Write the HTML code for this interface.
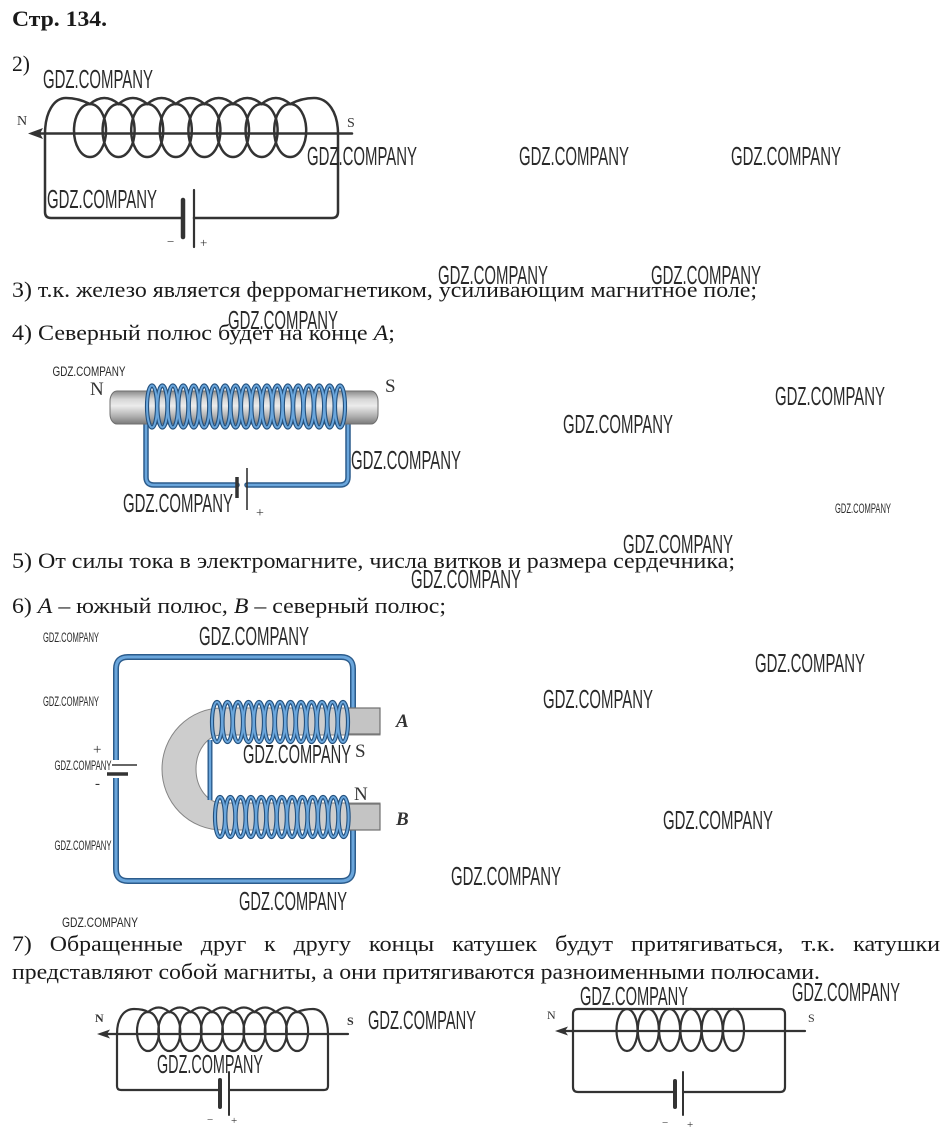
<!DOCTYPE html>
<html><head><meta charset="utf-8">
<style>
html,body{margin:0;padding:0;background:#fff;}
svg{display:block;}
.t{font-family:"Liberation Serif",serif;font-size:22px;fill:#1a1a1a;}
.w{font-family:"Liberation Sans",sans-serif;font-size:26px;fill:#2a2a2a;}
.ws{font-family:"Liberation Sans",sans-serif;font-size:13.5px;fill:#2a2a2a;}
.lbl{font-family:"Liberation Serif",serif;fill:#333;}
</style></head>
<body>
<svg width="948" height="1137" viewBox="0 0 948 1137" xmlns="http://www.w3.org/2000/svg">
<defs>
<linearGradient id="rod" x1="0" y1="0" x2="0" y2="1">
<stop offset="0" stop-color="#8a8a8a"/>
<stop offset="0.25" stop-color="#d6d6d6"/>
<stop offset="0.45" stop-color="#ececec"/>
<stop offset="0.75" stop-color="#b3b3b3"/>
<stop offset="1" stop-color="#7a7a7a"/>
</linearGradient>
</defs>

<!-- ===== TEXT ===== -->
<text x="12" y="26" class="t" style="font-weight:bold" textLength="95" lengthAdjust="spacingAndGlyphs">Стр. 134.</text>
<text x="12" y="71" class="t" textLength="18" lengthAdjust="spacingAndGlyphs">2)</text>
<text x="12" y="297" class="t" textLength="745" lengthAdjust="spacingAndGlyphs">3) т.к. железо является ферромагнетиком, усиливающим магнитное поле;</text>
<text x="12" y="340" class="t" textLength="383" lengthAdjust="spacingAndGlyphs">4) Северный полюс будет на конце <tspan font-style="italic">A</tspan>;</text>
<text x="12" y="568" class="t" textLength="723" lengthAdjust="spacingAndGlyphs">5) От силы тока в электромагните, числа витков и размера сердечника;</text>
<text x="12" y="613" class="t" textLength="434" lengthAdjust="spacingAndGlyphs">6) <tspan font-style="italic">A</tspan> – южный полюс, <tspan font-style="italic">B</tspan> – северный полюс;</text>

<text x="12" y="951" class="t" textLength="19.8" lengthAdjust="spacingAndGlyphs">7)</text>
<text x="49.8" y="951" class="t" textLength="133.1" lengthAdjust="spacingAndGlyphs">Обращенные</text>
<text x="200.8" y="951" class="t" textLength="45.5" lengthAdjust="spacingAndGlyphs">друг</text>
<text x="264.2" y="951" class="t" textLength="11.4" lengthAdjust="spacingAndGlyphs">к</text>
<text x="293.6" y="951" class="t" textLength="57.4" lengthAdjust="spacingAndGlyphs">другу</text>
<text x="368.9" y="951" class="t" textLength="65.2" lengthAdjust="spacingAndGlyphs">концы</text>
<text x="452.1" y="951" class="t" textLength="84.9" lengthAdjust="spacingAndGlyphs">катушек</text>
<text x="555.0" y="951" class="t" textLength="58.1" lengthAdjust="spacingAndGlyphs">будут</text>
<text x="631.0" y="951" class="t" textLength="152.4" lengthAdjust="spacingAndGlyphs">притягиваться,</text>
<text x="801.4" y="951" class="t" textLength="33.8" lengthAdjust="spacingAndGlyphs">т.к.</text>
<text x="853.1" y="951" class="t" textLength="87" lengthAdjust="spacingAndGlyphs">катушки</text>
<text x="12" y="979" class="t" textLength="808" lengthAdjust="spacingAndGlyphs">представляют собой магниты, а они притягиваются разноименными полюсами.</text>

<!-- ===== DIAGRAM 1 ===== -->
<g fill="none" stroke="#333" stroke-width="2.5" stroke-linecap="round">
<line x1="38" y1="133.5" x2="352" y2="133.5"/>
<path d="M45,134 C45,112 54,98 66,98 C76,98 84,101 90,104"/>
<path d="M90,104 Q104.3,92 118.6,104 Q132.9,92 147.2,104 Q161.5,92 175.8,104 Q190.1,92 204.4,104 Q218.7,92 233,104 Q247.3,92 261.6,104 Q275.9,92 290.2,104"/>
<path d="M290.2,104 C296,101 304,98 314,98 C328,98 338,112 338,134"/>
<ellipse cx="90" cy="130.5" rx="16" ry="26.5"/>
<ellipse cx="118.6" cy="130.5" rx="16" ry="26.5"/>
<ellipse cx="147.2" cy="130.5" rx="16" ry="26.5"/>
<ellipse cx="175.8" cy="130.5" rx="16" ry="26.5"/>
<ellipse cx="204.4" cy="130.5" rx="16" ry="26.5"/>
<ellipse cx="233" cy="130.5" rx="16" ry="26.5"/>
<ellipse cx="261.6" cy="130.5" rx="16" ry="26.5"/>
<ellipse cx="290.2" cy="130.5" rx="16" ry="26.5"/>
<path d="M45,134 L45,212 Q45,218 51,218 L183,218"/>
<path d="M338,134 L338,212 Q338,218 332,218 L194,218"/>
<line x1="183" y1="200" x2="183" y2="237" stroke-width="4.5"/>
<line x1="194" y1="190" x2="194" y2="247" stroke-width="2.2"/>
</g>
<polygon points="28,133.5 43,128 40,133.5 43,139" fill="#333"/>
<text x="17" y="125" class="lbl" font-size="14">N</text>
<text x="347" y="127" class="lbl" font-size="14">S</text>
<text x="167" y="246" class="lbl" font-size="13">−</text>
<text x="200" y="247" class="lbl" font-size="13">+</text>

<!-- ===== DIAGRAM 2 (electromagnet) ===== -->
<g fill="none" stroke-linecap="round" stroke-linejoin="round">
<path d="M146,418 L146,477 Q146,485 154,485 L237,485 M247,485 L340,485 Q348,485 348,477 L348,420" stroke="#2c5c8c" stroke-width="5.5"/>
<path d="M146,418 L146,477 Q146,485 154,485 L237,485 M247,485 L340,485 Q348,485 348,477 L348,420" stroke="#6aa6dc" stroke-width="2.5"/>
</g>
<rect x="110" y="391" width="268" height="33" rx="7" ry="10" fill="url(#rod)" stroke="#6f6f6f" stroke-width="1"/>
<g fill="none">
<g stroke="#23507d" stroke-width="4.2">
<ellipse cx="152" cy="406.5" rx="5" ry="21"/><ellipse cx="162.4" cy="406.5" rx="5" ry="21"/><ellipse cx="172.9" cy="406.5" rx="5" ry="21"/><ellipse cx="183.3" cy="406.5" rx="5" ry="21"/><ellipse cx="193.8" cy="406.5" rx="5" ry="21"/><ellipse cx="204.2" cy="406.5" rx="5" ry="21"/><ellipse cx="214.7" cy="406.5" rx="5" ry="21"/><ellipse cx="225.1" cy="406.5" rx="5" ry="21"/><ellipse cx="235.6" cy="406.5" rx="5" ry="21"/><ellipse cx="246" cy="406.5" rx="5" ry="21"/><ellipse cx="256.4" cy="406.5" rx="5" ry="21"/><ellipse cx="266.9" cy="406.5" rx="5" ry="21"/><ellipse cx="277.3" cy="406.5" rx="5" ry="21"/><ellipse cx="287.8" cy="406.5" rx="5" ry="21"/><ellipse cx="298.2" cy="406.5" rx="5" ry="21"/><ellipse cx="308.7" cy="406.5" rx="5" ry="21"/><ellipse cx="319.1" cy="406.5" rx="5" ry="21"/><ellipse cx="329.6" cy="406.5" rx="5" ry="21"/><ellipse cx="340" cy="406.5" rx="5" ry="21"/>
</g>
<g stroke="#6aa6dc" stroke-width="2">
<ellipse cx="152" cy="406.5" rx="5" ry="21"/><ellipse cx="162.4" cy="406.5" rx="5" ry="21"/><ellipse cx="172.9" cy="406.5" rx="5" ry="21"/><ellipse cx="183.3" cy="406.5" rx="5" ry="21"/><ellipse cx="193.8" cy="406.5" rx="5" ry="21"/><ellipse cx="204.2" cy="406.5" rx="5" ry="21"/><ellipse cx="214.7" cy="406.5" rx="5" ry="21"/><ellipse cx="225.1" cy="406.5" rx="5" ry="21"/><ellipse cx="235.6" cy="406.5" rx="5" ry="21"/><ellipse cx="246" cy="406.5" rx="5" ry="21"/><ellipse cx="256.4" cy="406.5" rx="5" ry="21"/><ellipse cx="266.9" cy="406.5" rx="5" ry="21"/><ellipse cx="277.3" cy="406.5" rx="5" ry="21"/><ellipse cx="287.8" cy="406.5" rx="5" ry="21"/><ellipse cx="298.2" cy="406.5" rx="5" ry="21"/><ellipse cx="308.7" cy="406.5" rx="5" ry="21"/><ellipse cx="319.1" cy="406.5" rx="5" ry="21"/><ellipse cx="329.6" cy="406.5" rx="5" ry="21"/><ellipse cx="340" cy="406.5" rx="5" ry="21"/>
</g>
</g>
<line x1="237" y1="477" x2="237" y2="498" stroke="#333" stroke-width="3.5"/>
<line x1="247" y1="468" x2="247" y2="510" stroke="#333" stroke-width="1.6"/>
<text x="90" y="395" class="lbl" font-size="19">N</text>
<text x="385" y="392" class="lbl" font-size="19">S</text>
<text x="256" y="517" class="lbl" font-size="14">+</text>

<!-- ===== DIAGRAM 3 (horseshoe) ===== -->
<g fill="none" stroke-linecap="butt" stroke-linejoin="round">
<path d="M116,760 L116,669 Q116,657 128,657 L341,657 Q353,657 353,669 L353,712 M353,826 L353,869 Q353,881 341,881 L128,881 Q116,881 116,869 L116,778" stroke="#2c5c8c" stroke-width="6"/>
<path d="M116,760 L116,669 Q116,657 128,657 L341,657 Q353,657 353,669 L353,712 M353,826 L353,869 Q353,881 341,881 L128,881 Q116,881 116,869 L116,778" stroke="#6aa6dc" stroke-width="3"/>
</g>
<line x1="112" y1="765" x2="137" y2="765" stroke="#333" stroke-width="1.6"/>
<line x1="107" y1="774" x2="128" y2="774" stroke="#333" stroke-width="3.5"/>
<text x="93" y="754" class="lbl" font-size="15">+</text>
<text x="95" y="788" class="lbl" font-size="15">-</text>

<path d="M380,708 L222,708 A60,61 0 0 0 222,830 L380,830 L380,803 L222,803 A26,34 0 0 1 222,735 L380,735 Z" fill="#cdcdcd" stroke="#858585" stroke-width="1"/>
<rect x="348" y="708" width="32" height="26" fill="#c4c4c4" stroke="#707070" stroke-width="1.2"/>
<rect x="348" y="804" width="32" height="26" fill="#c4c4c4" stroke="#707070" stroke-width="1.2"/>
<g fill="none">
<path d="M210,740 L210,800" stroke="#2c5c8c" stroke-width="5"/>
<path d="M210,740 L210,800" stroke="#6aa6dc" stroke-width="2.2"/>
<g stroke="#23507d" stroke-width="4.2">
<ellipse cx="217" cy="722" rx="5" ry="20"/><ellipse cx="227.5" cy="722" rx="5" ry="20"/><ellipse cx="238" cy="722" rx="5" ry="20"/><ellipse cx="248.5" cy="722" rx="5" ry="20"/><ellipse cx="259" cy="722" rx="5" ry="20"/><ellipse cx="269.5" cy="722" rx="5" ry="20"/><ellipse cx="280" cy="722" rx="5" ry="20"/><ellipse cx="290.5" cy="722" rx="5" ry="20"/><ellipse cx="301" cy="722" rx="5" ry="20"/><ellipse cx="311.5" cy="722" rx="5" ry="20"/><ellipse cx="322" cy="722" rx="5" ry="20"/><ellipse cx="332.5" cy="722" rx="5" ry="20"/><ellipse cx="343" cy="722" rx="5" ry="20"/>
<ellipse cx="220" cy="817" rx="5" ry="20"/><ellipse cx="230.3" cy="817" rx="5" ry="20"/><ellipse cx="240.6" cy="817" rx="5" ry="20"/><ellipse cx="250.9" cy="817" rx="5" ry="20"/><ellipse cx="261.2" cy="817" rx="5" ry="20"/><ellipse cx="271.5" cy="817" rx="5" ry="20"/><ellipse cx="281.8" cy="817" rx="5" ry="20"/><ellipse cx="292.1" cy="817" rx="5" ry="20"/><ellipse cx="302.4" cy="817" rx="5" ry="20"/><ellipse cx="312.7" cy="817" rx="5" ry="20"/><ellipse cx="323" cy="817" rx="5" ry="20"/><ellipse cx="333.3" cy="817" rx="5" ry="20"/><ellipse cx="343.6" cy="817" rx="5" ry="20"/>
</g>
<g stroke="#6aa6dc" stroke-width="2">
<ellipse cx="217" cy="722" rx="5" ry="20"/><ellipse cx="227.5" cy="722" rx="5" ry="20"/><ellipse cx="238" cy="722" rx="5" ry="20"/><ellipse cx="248.5" cy="722" rx="5" ry="20"/><ellipse cx="259" cy="722" rx="5" ry="20"/><ellipse cx="269.5" cy="722" rx="5" ry="20"/><ellipse cx="280" cy="722" rx="5" ry="20"/><ellipse cx="290.5" cy="722" rx="5" ry="20"/><ellipse cx="301" cy="722" rx="5" ry="20"/><ellipse cx="311.5" cy="722" rx="5" ry="20"/><ellipse cx="322" cy="722" rx="5" ry="20"/><ellipse cx="332.5" cy="722" rx="5" ry="20"/><ellipse cx="343" cy="722" rx="5" ry="20"/>
<ellipse cx="220" cy="817" rx="5" ry="20"/><ellipse cx="230.3" cy="817" rx="5" ry="20"/><ellipse cx="240.6" cy="817" rx="5" ry="20"/><ellipse cx="250.9" cy="817" rx="5" ry="20"/><ellipse cx="261.2" cy="817" rx="5" ry="20"/><ellipse cx="271.5" cy="817" rx="5" ry="20"/><ellipse cx="281.8" cy="817" rx="5" ry="20"/><ellipse cx="292.1" cy="817" rx="5" ry="20"/><ellipse cx="302.4" cy="817" rx="5" ry="20"/><ellipse cx="312.7" cy="817" rx="5" ry="20"/><ellipse cx="323" cy="817" rx="5" ry="20"/><ellipse cx="333.3" cy="817" rx="5" ry="20"/><ellipse cx="343.6" cy="817" rx="5" ry="20"/>
</g>
</g>
<text x="396" y="727" class="lbl" font-size="19" font-style="italic" font-weight="bold" fill="#444">A</text>
<text x="355" y="757" class="lbl" font-size="19">S</text>
<text x="354" y="800" class="lbl" font-size="19">N</text>
<text x="396" y="825" class="lbl" font-size="19" font-style="italic" font-weight="bold" fill="#444">B</text>

<!-- ===== DIAGRAM 4 (bottom-left) ===== -->
<g fill="none" stroke="#333" stroke-width="2.2" stroke-linecap="round">
<line x1="106" y1="1034" x2="348" y2="1034"/>
<path d="M117,1034 C117,1018 124,1009 134,1009 C140,1009 145,1010 148,1012"/>
<path d="M148,1012 Q158.65,1003 169.3,1012 Q179.95,1003 190.6,1012 Q201.25,1003 211.9,1012 Q222.55,1003 233.2,1012 Q243.85,1003 254.5,1012 Q265.15,1003 275.8,1012 Q286.45,1003 297.1,1012"/>
<path d="M297.1,1012 C302,1010 307,1009 313,1009 C322,1009 328,1018 328,1034"/>
<ellipse cx="148" cy="1031.5" rx="11" ry="19.5"/>
<ellipse cx="169.3" cy="1031.5" rx="11" ry="19.5"/>
<ellipse cx="190.6" cy="1031.5" rx="11" ry="19.5"/>
<ellipse cx="211.9" cy="1031.5" rx="11" ry="19.5"/>
<ellipse cx="233.2" cy="1031.5" rx="11" ry="19.5"/>
<ellipse cx="254.5" cy="1031.5" rx="11" ry="19.5"/>
<ellipse cx="275.8" cy="1031.5" rx="11" ry="19.5"/>
<ellipse cx="297.1" cy="1031.5" rx="11" ry="19.5"/>
<path d="M117,1034 L117,1086 Q117,1090 121,1090 L220,1090"/>
<path d="M328,1034 L328,1086 Q328,1090 324,1090 L229,1090"/>
<line x1="220" y1="1080" x2="220" y2="1107" stroke-width="4"/>
<line x1="229" y1="1072" x2="229" y2="1115" stroke-width="2"/>
</g>
<polygon points="97,1034 110,1029.5 107,1034 110,1038.5" fill="#333"/>
<text x="95" y="1022" class="lbl" font-size="12" font-weight="bold">N</text>
<text x="347" y="1025" class="lbl" font-size="12" font-weight="bold">S</text>
<text x="207" y="1123" class="lbl" font-size="11">−</text>
<text x="231" y="1124" class="lbl" font-size="11">+</text>

<!-- ===== DIAGRAM 5 (bottom-right) ===== -->
<g fill="none" stroke="#333" stroke-width="2.2" stroke-linecap="round">
<line x1="565" y1="1031" x2="805" y2="1031"/>
<path d="M675,1092 L578,1092 Q573,1092 573,1087 L573,1014 Q573,1009 578,1009 L780,1009 Q785,1009 785,1014 L785,1087 Q785,1092 780,1092 L683,1092"/>
<ellipse cx="627" cy="1030" rx="10.5" ry="21"/>
<ellipse cx="648.3" cy="1030" rx="10.5" ry="21"/>
<ellipse cx="669.6" cy="1030" rx="10.5" ry="21"/>
<ellipse cx="690.9" cy="1030" rx="10.5" ry="21"/>
<ellipse cx="712.2" cy="1030" rx="10.5" ry="21"/>
<ellipse cx="733.5" cy="1030" rx="10.5" ry="21"/>
<line x1="675" y1="1081" x2="675" y2="1107" stroke-width="4"/>
<line x1="683" y1="1072" x2="683" y2="1115" stroke-width="2"/>
</g>
<polygon points="555,1031 568,1026.5 565,1031 568,1035.5" fill="#333"/>
<text x="547" y="1019" class="lbl" font-size="12">N</text>
<text x="808" y="1022" class="lbl" font-size="12">S</text>
<text x="662" y="1126" class="lbl" font-size="11">−</text>
<text x="687" y="1128" class="lbl" font-size="11">+</text>

<!-- ===== WATERMARKS ===== -->
<g class="w" text-anchor="middle">
<text x="98" y="88" class="w" textLength="110" lengthAdjust="spacingAndGlyphs">GDZ.COMPANY</text>
<text x="362" y="165" class="w" textLength="110" lengthAdjust="spacingAndGlyphs">GDZ.COMPANY</text>
<text x="574" y="165" class="w" textLength="110" lengthAdjust="spacingAndGlyphs">GDZ.COMPANY</text>
<text x="786" y="165" class="w" textLength="110" lengthAdjust="spacingAndGlyphs">GDZ.COMPANY</text>
<text x="102" y="208" class="w" textLength="110" lengthAdjust="spacingAndGlyphs">GDZ.COMPANY</text>
<text x="493" y="284" class="w" textLength="110" lengthAdjust="spacingAndGlyphs">GDZ.COMPANY</text>
<text x="706" y="284" class="w" textLength="110" lengthAdjust="spacingAndGlyphs">GDZ.COMPANY</text>
<text x="283" y="329" class="w" textLength="110" lengthAdjust="spacingAndGlyphs">GDZ.COMPANY</text>
<text x="830" y="405" class="w" textLength="110" lengthAdjust="spacingAndGlyphs">GDZ.COMPANY</text>
<text x="618" y="433" class="w" textLength="110" lengthAdjust="spacingAndGlyphs">GDZ.COMPANY</text>
<text x="406" y="469" class="w" textLength="110" lengthAdjust="spacingAndGlyphs">GDZ.COMPANY</text>
<text x="178" y="512" class="w" textLength="110" lengthAdjust="spacingAndGlyphs">GDZ.COMPANY</text>
<text x="678" y="553" class="w" textLength="110" lengthAdjust="spacingAndGlyphs">GDZ.COMPANY</text>
<text x="466" y="588" class="w" textLength="110" lengthAdjust="spacingAndGlyphs">GDZ.COMPANY</text>
<text x="254" y="645" class="w" textLength="110" lengthAdjust="spacingAndGlyphs">GDZ.COMPANY</text>
<text x="810" y="672" class="w" textLength="110" lengthAdjust="spacingAndGlyphs">GDZ.COMPANY</text>
<text x="598" y="708" class="w" textLength="110" lengthAdjust="spacingAndGlyphs">GDZ.COMPANY</text>
<text x="297" y="763" class="w" textLength="108" lengthAdjust="spacingAndGlyphs">GDZ.COMPANY</text>
<text x="718" y="829" class="w" textLength="110" lengthAdjust="spacingAndGlyphs">GDZ.COMPANY</text>
<text x="506" y="885" class="w" textLength="110" lengthAdjust="spacingAndGlyphs">GDZ.COMPANY</text>
<text x="293" y="910" class="w" textLength="108" lengthAdjust="spacingAndGlyphs">GDZ.COMPANY</text>
<text x="634" y="1005" class="w" textLength="108" lengthAdjust="spacingAndGlyphs">GDZ.COMPANY</text>
<text x="846" y="1001" class="w" textLength="108" lengthAdjust="spacingAndGlyphs">GDZ.COMPANY</text>
<text x="422" y="1029" class="w" textLength="108" lengthAdjust="spacingAndGlyphs">GDZ.COMPANY</text>
<text x="210" y="1073" class="w" textLength="106" lengthAdjust="spacingAndGlyphs">GDZ.COMPANY</text>
</g>
<g text-anchor="middle">
<text x="89" y="376" class="ws" font-size="14.5" textLength="73" lengthAdjust="spacingAndGlyphs">GDZ.COMPANY</text>
<text x="863" y="513" class="ws" font-size="12" textLength="56" lengthAdjust="spacingAndGlyphs">GDZ.COMPANY</text>
<text x="71" y="642" class="ws" textLength="56" lengthAdjust="spacingAndGlyphs">GDZ.COMPANY</text>
<text x="71" y="706" class="ws" textLength="56" lengthAdjust="spacingAndGlyphs">GDZ.COMPANY</text>
<text x="83" y="770" class="ws" textLength="57" lengthAdjust="spacingAndGlyphs">GDZ.COMPANY</text>
<text x="83" y="850" class="ws" textLength="57" lengthAdjust="spacingAndGlyphs">GDZ.COMPANY</text>
<text x="100" y="927" class="ws" font-size="14.5" textLength="76" lengthAdjust="spacingAndGlyphs">GDZ.COMPANY</text>
</g>
</svg>
</body></html>
